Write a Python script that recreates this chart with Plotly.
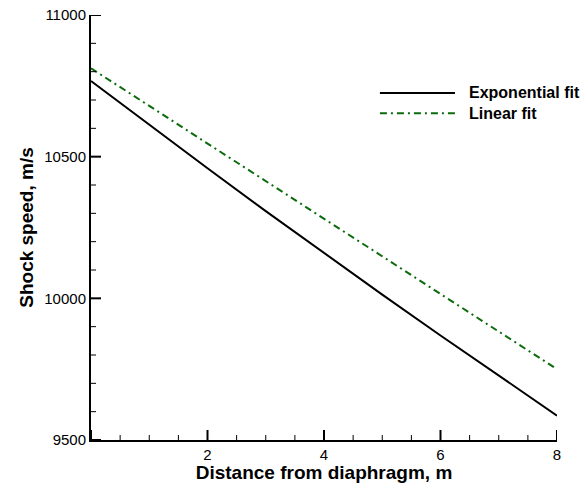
import plotly.graph_objects as go

distance_m = [0, 1, 2, 3, 4, 5, 6, 7, 8]
exponential_fit = [10767, 10612, 10459, 10308, 10160, 10013, 9869, 9727, 9586]
linear_fit = [10812, 10679, 10547, 10414, 10281, 10148, 10016, 9883, 9750]

x_range = [0, 8]
y_range = [9500, 11000]
x_major_step, x_minor_step = 2, 0.5
y_major_step, y_minor_step = 500, 100

series_names = ["Exponential fit", "Linear fit"]
series_colors = ["black", "#0b6b0b"]
series_dash = ["solid", "7px,4px,2px,4px"]

FONT = "Liberation Sans, Arial, Helvetica, sans-serif"
W, H = 581, 483
M = dict(l=91, r=24, t=15, b=43)
plot_w = W - M["l"] - M["r"]
plot_h = H - M["t"] - M["b"]

fig = go.Figure()
for name, ys, col, dsh in zip(series_names, [exponential_fit, linear_fit], series_colors, series_dash):
    fig.add_trace(go.Scatter(x=distance_m, y=ys, mode="lines", name=name,
                             showlegend=False,
                             line=dict(color=col, width=2, dash=dsh)))


def is_major(v, start, step):
    q = (v - start) / step
    return abs(q - round(q)) < 1e-9


# inward tick marks (major 10 px, minor 5 px) built from the axis steps
x_per_px = (x_range[1] - x_range[0]) / plot_w
y_per_px = (y_range[1] - y_range[0]) / plot_h
tick_sets = {True: ([], []), False: ([], [])}
n_x = int(round((x_range[1] - x_range[0]) / x_minor_step))
for i in range(n_x + 1):
    v = x_range[0] + i * x_minor_step
    mj = is_major(v, x_range[0], x_major_step)
    L = (10 if mj else 5) * y_per_px
    tick_sets[mj][0].extend([v, v, None])
    tick_sets[mj][1].extend([y_range[0], y_range[0] + L, None])
n_y = int(round((y_range[1] - y_range[0]) / y_minor_step))
for i in range(n_y + 1):
    v = y_range[0] + i * y_minor_step
    mj = is_major(v, y_range[0], y_major_step)
    L = (10 if mj else 5) * x_per_px
    tick_sets[mj][0].extend([x_range[0], x_range[0] + L, None])
    tick_sets[mj][1].extend([v, v, None])
for mj, (tx, ty) in tick_sets.items():
    fig.add_trace(go.Scatter(x=tx, y=ty, mode="lines", showlegend=False, hoverinfo="skip",
                             cliponaxis=False,
                             line=dict(color="black", width=2 if mj else 1)))

axis_common = dict(
    showline=True, linecolor="black", linewidth=2,
    ticks="", showgrid=False, zeroline=False, mirror=False, automargin=False,
    tickfont=dict(family=FONT, size=15, color="black"),
)

fig.update_layout(
    xaxis=dict(
        range=x_range, tickmode="linear", tick0=x_range[0], dtick=x_major_step,
        labelalias={"0": " "},
        title=dict(text="Distance from diaphragm, m", standoff=0,
                   font=dict(family=FONT, size=19, color="black", weight="bold")),
        **axis_common,
    ),
    yaxis=dict(
        range=y_range, tickmode="linear", tick0=y_range[0], dtick=y_major_step,
        tickformat="d",
        title=dict(text="Shock speed, m/s", standoff=6,
                   font=dict(family=FONT, size=19, color="black", weight="bold")),
        **axis_common,
    ),
)

# manual legend (long line samples like the reference)
legend_rows_y = [0.8165, 0.769]
for name, col, dsh, yy in zip(series_names, series_colors, series_dash, legend_rows_y):
    fig.add_shape(type="line", xref="paper", yref="paper",
                  x0=0.620, x1=0.781, y0=yy, y1=yy,
                  line=dict(color=col, width=2, dash=dsh))
    fig.add_annotation(xref="paper", yref="paper", x=0.807, y=yy,
                       xanchor="left", yanchor="middle", showarrow=False,
                       text=name,
                       font=dict(family=FONT, size=16, color="black", weight="bold"))

fig.update_layout(
    template="none",
    width=W, height=H,
    margin=M,
    plot_bgcolor="white", paper_bgcolor="white",
    font=dict(family=FONT, size=15, color="black"),
    showlegend=False,
)

fig.write_html("out.html")
